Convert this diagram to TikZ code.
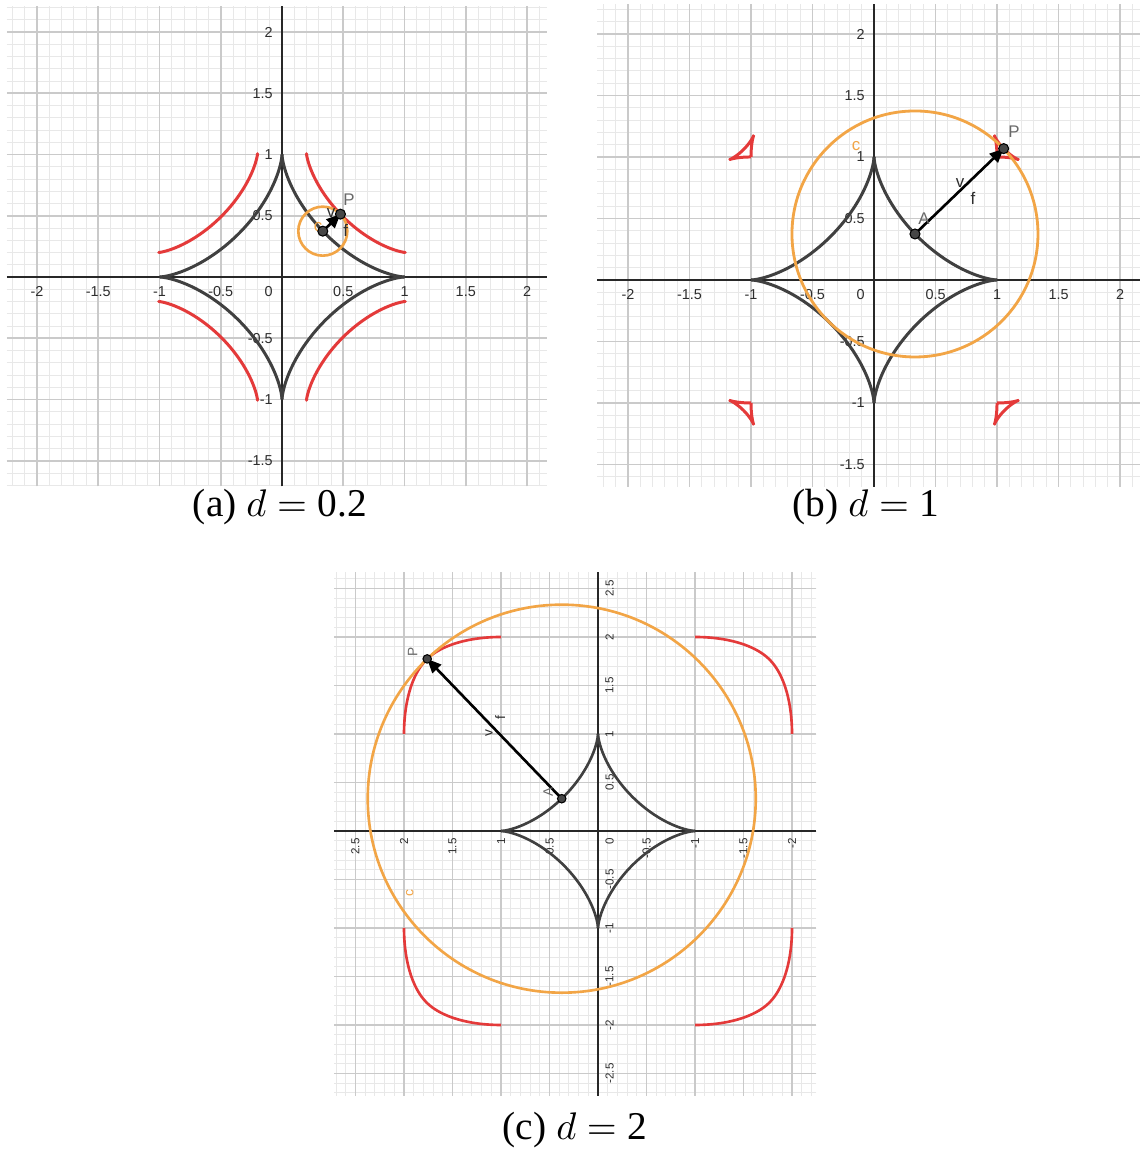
\documentclass[tikz,border=0pt]{standalone}
\usepackage{fontspec}
\setmainfont{Liberation Serif}
\newfontfamily\ggfont{Liberation Sans}
\usetikzlibrary{arrows.meta}

\definecolor{ggred}{RGB}{228,58,58}
\definecolor{ggorange}{RGB}{242,165,70}
\definecolor{ggdark}{RGB}{64,64,64}
\definecolor{ggaxis}{RGB}{40,40,40}
\definecolor{ggmajor}{RGB}{202,202,202}
\definecolor{ggminor}{RGB}{232,232,232}
\definecolor{gglabel}{RGB}{45,45,45}
\definecolor{ggname}{RGB}{105,105,105}
\definecolor{ggpoint}{RGB}{70,70,70}

\tikzset{
  minorgrid/.style={draw=ggminor, line width=0.25pt},
  majorgrid/.style={draw=ggmajor, line width=0.45pt},
  axisline/.style={draw=ggaxis, line width=0.5pt},
  ticklabel/.style={font=\ggfont\fontsize{4.1}{4.5}\selectfont, text=gglabel, inner sep=0pt},
  astroid/.style={draw=ggdark, line width=0.85pt},
  offsetcurve/.style={draw=ggred, line width=0.85pt, line join=round},
  circlec/.style={draw=ggorange, line width=0.75pt},
  vec/.style={draw=black, line width=0.75pt, -{Triangle[length=1.4mm,width=1.2mm]}},
  pt/.style={circle, fill=ggpoint, draw=black, line width=0.3pt, inner sep=0pt, minimum size=1mm},
  ptlabel/.style={font=\ggfont\fontsize{4.8}{5}\selectfont, text=ggname, inner sep=0pt},
  caption/.style={font=\fontsize{11.2}{13}\selectfont, inner sep=0pt}
}

\begin{document}
\begin{tikzpicture}
\path[use as bounding box, fill=white] (0,0) rectangle (11.43,11.50);

% (a) d = 0.2
\begin{scope}[shift={(2.82,8.73)}, x=1.225cm, y=1.225cm]
  \draw[minorgrid] (-2.245,-1.71) grid[step=0.1] (2.16,2.21);
  \draw[majorgrid] (-2.245,-1.71) grid[step=0.5] (2.16,2.21);
  \draw[axisline] (-2.245,0) -- (2.16,0);
  \draw[axisline] (0,-1.71) -- (0,2.21);
  \foreach \v [count=\i] in {-2,-1.5,-1,-0.5,0.5,1,1.5,2}
    \node[ticklabel, anchor=north] (xa\i) at (\v,-0.07) {\v};
  \foreach \v [count=\i] in {-1.5,-1,-0.5,0.5,1,1.5,2}
    \node[ticklabel, anchor=east] (ya\i) at (-0.07,\v) {\v};
  \node[ticklabel, anchor=north east] (oa) at (-0.07,-0.07) {0};
  \foreach \sx/\sy in {1/1,-1/1,-1/-1,1/-1} {
    \draw[astroid] plot[domain=0:90, samples=80, variable=\t]
      ({\sx*cos(\t)^3}, {\sy*sin(\t)^3});
    \draw[offsetcurve] plot[domain=0:90, samples=120, variable=\t]
      ({\sx*(cos(\t)^3+0.2*sin(\t))}, {\sy*(sin(\t)^3+0.2*cos(\t))});
  }
  \coordinate (Aa) at (0.333,0.374);
  \coordinate (Pa) at (0.477,0.513);
  \draw[circlec] (Aa) circle[radius=0.2];
  \node[ptlabel, text=ggorange] (ca) at (0.294,0.408) {c};
  \draw[vec] (Aa) -- (Pa);
  \node[pt] (Aadot) at (Aa) {};
  \node[pt] (Padot) at (Pa) {};
  \node[ptlabel] (Pname) at (0.547,0.629) {P};
  \node[ptlabel, text=gglabel] (va) at (0.40,0.525) {v};
  \node[ptlabel, text=gglabel] (fa) at (0.52,0.384) {f};
\end{scope}

% (b) d = 1
\begin{scope}[shift={(8.74,8.70)}, x=1.23cm, y=1.23cm]
  \draw[minorgrid] (-2.25,-1.68) grid[step=0.1] (2.16,2.24);
  \draw[majorgrid] (-2.25,-1.68) grid[step=0.5] (2.16,2.24);
  \draw[axisline] (-2.25,0) -- (2.16,0);
  \draw[axisline] (0,-1.68) -- (0,2.24);
  \foreach \v [count=\i] in {-2,-1.5,-1,-0.5,0.5,1,1.5,2}
    \node[ticklabel, anchor=north] (xb\i) at (\v,-0.07) {\v};
  \foreach \v [count=\i] in {-1.5,-1,-0.5,0.5,1,1.5,2}
    \node[ticklabel, anchor=east] (yb\i) at (-0.07,\v) {\v};
  \node[ticklabel, anchor=north east] (ob) at (-0.07,-0.07) {0};
  \foreach \sx/\sy in {1/1,-1/1,-1/-1,1/-1} {
    \draw[astroid] plot[domain=0:90, samples=80, variable=\t]
      ({\sx*cos(\t)^3}, {\sy*sin(\t)^3});
    \draw[offsetcurve] plot[domain=0:90, samples=181, variable=\t]
      ({\sx*(cos(\t)^3+sin(\t))}, {\sy*(sin(\t)^3+cos(\t))});
  }
  \coordinate (Ab) at (0.333,0.374);
  \coordinate (Pb) at (1.054,1.068);
  \draw[circlec, line width=0.8pt] (Ab) circle[radius=1];
  \node[ptlabel, text=ggorange] (cb) at (-0.146,1.089) {c};
  \draw[vec] (Ab) -- (Pb);
  \node[pt] (Abdot) at (Ab) {};
  \node[pt] (Pbdot) at (Pb) {};
  \node[ptlabel] (Pbname) at (1.138,1.203) {P};
  \node[ptlabel] (Abname) at (0.407,0.496) {A};
  \node[ptlabel, text=gglabel] (vb) at (0.699,0.789) {v};
  \node[ptlabel, text=gglabel] (fb) at (0.805,0.667) {f};
\end{scope}

% (c) d = 2, turned a quarter
\begin{scope}[shift={(5.98,3.19)}, x=0.97cm, y=0.97cm, rotate=90, transform shape,
  ticklabel/.append style={font=\ggfont\fontsize{3.3}{3.6}\selectfont},
  ptlabel/.append style={font=\ggfont\fontsize{3.9}{4}\selectfont},
  pt/.append style={minimum size=0.85mm},
  astroid/.append style={line width=0.75pt},
  offsetcurve/.append style={line width=0.75pt}]
  \draw[minorgrid] (-2.73,-2.25) grid[step=0.1] (2.67,2.72);
  \draw[majorgrid] (-2.73,-2.25) grid[step=0.5] (2.67,2.72);
  \draw[axisline] (-2.73,0) -- (2.67,0);
  \draw[axisline] (0,-2.25) -- (0,2.72);
  \foreach \v [count=\i] in {-2.5,-2,-1.5,-1,-0.5,0.5,1,1.5,2,2.5}
    \node[ticklabel, anchor=north] (xc\i) at (\v,-0.07) {\v};
  \foreach \v [count=\i] in {-2,-1.5,-1,-0.5,0.5,1,1.5,2,2.5}
    \node[ticklabel, anchor=east] (yc\i) at (-0.07,\v) {\v};
  \node[ticklabel, anchor=north east] (oc) at (-0.07,-0.07) {0};
  \foreach \sx/\sy in {1/1,-1/1,-1/-1,1/-1} {
    \draw[astroid] plot[domain=0:90, samples=80, variable=\t]
      ({\sx*cos(\t)^3}, {\sy*sin(\t)^3});
    \draw[offsetcurve] plot[domain=0:90, samples=120, variable=\t]
      ({\sx*(cos(\t)^3+2*sin(\t))}, {\sy*(sin(\t)^3+2*cos(\t))});
  }
  \coordinate (Ac) at (0.333,0.374);
  \coordinate (Pc) at (1.774,1.761);
  \draw[circlec] (Ac) circle[radius=2];
  \node[ptlabel, text=ggorange] (cc) at (-0.64,1.94) {c};
  \draw[vec] (Ac) -- (Pc);
  \node[pt] (Acdot) at (Ac) {};
  \node[pt] (Pcdot) at (Pc) {};
  \node[ptlabel] (Pcname) at (1.85,1.91) {P};
  \node[ptlabel] (Acname) at (0.40,0.515) {A};
  \node[ptlabel, text=gglabel] (vc) at (1.01,1.124) {v};
  \node[ptlabel, text=gglabel] (fc) at (1.165,1.01) {f};
\end{scope}

\node[caption] (capa) at (2.80,6.43) {(a) $d={}$0.2};
\node[caption] (capb) at (8.66,6.43) {(b) $d={}$1};
\node[caption] (capc) at (5.75,0.20) {(c) $d={}$2};
\end{tikzpicture}
\end{document}
